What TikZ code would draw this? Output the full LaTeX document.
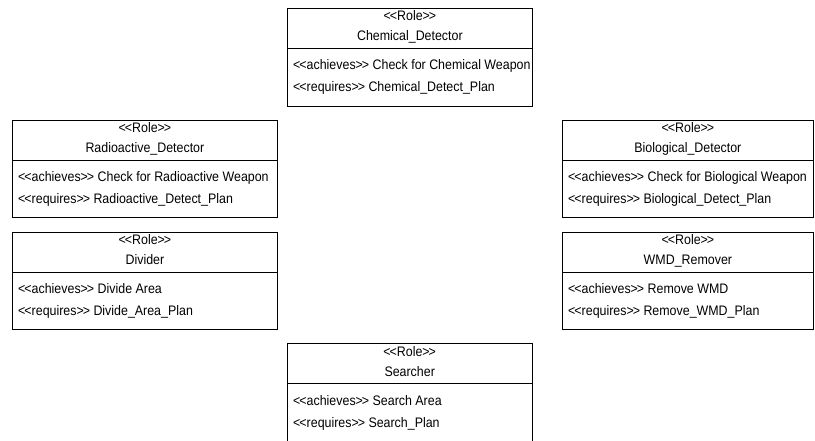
\documentclass[tikz,border=0pt]{standalone}
\usepackage{fontspec}
\newfontfamily\umlfont[FakeStretch=0.90]{Liberation Sans}
\begin{document}
\begin{tikzpicture}[x=1pt,y=-1pt,
  font=\umlfont\fontsize{13.8}{15}\selectfont,
  boxframe/.style={inner sep=0pt, anchor=north west},
  frameline/.style={draw=black, line width=0.8pt},
  ttl/.style={inner sep=0pt, anchor=base},
  txt/.style={inner sep=0pt, anchor=base west}]
\useasboundingbox (0,0) rectangle (815,441);
\newcommand\roleparts[4]{% id, name, achieves, requires
  \draw[frameline] ([yshift=-40pt]#1.north west) -- ([yshift=-40pt]#1.north east);
  \node[ttl] (#1-st) at ([yshift=-13pt]#1.north) {<\kern-1pt<Role>\kern-1pt>};
  \node[ttl] (#1-nm) at ([yshift=-33pt]#1.north) {#2};
  \node[txt] (#1-ac) at ([xshift=6pt,yshift=-62pt]#1.north west) {<\kern-1pt<achieves>\kern-1pt> #3};
  \node[txt] (#1-rq) at ([xshift=6pt,yshift=-84pt]#1.north west) {<\kern-1pt<requires>\kern-1pt> #4};
}
% boxes
\node[boxframe, frameline, minimum width=245pt, minimum height=98pt] (chem) at (287,8) {};
\roleparts{chem}{Chemical\_Detector}{Check for Chemical Weapon}{Chemical\_Detect\_Plan}

\node[boxframe, frameline, minimum width=265pt, minimum height=97pt] (radio) at (12,120) {};
\roleparts{radio}{Radioactive\_Detector}{Check for Radioactive Weapon}{Radioactive\_Detect\_Plan}

\node[boxframe, frameline, minimum width=265pt, minimum height=97pt] (divider) at (12,232) {};
\roleparts{divider}{Divider}{Divide Area}{Divide\_Area\_Plan}

\node[boxframe, frameline, minimum width=251pt, minimum height=97pt] (bio) at (562,120) {};
\roleparts{bio}{Biological\_Detector}{Check for Biological Weapon}{Biological\_Detect\_Plan}

\node[boxframe, frameline, minimum width=251pt, minimum height=97pt] (wmd) at (562,232) {};
\roleparts{wmd}{WMD\_Remover}{Remove WMD}{Remove\_WMD\_Plan}

\node[boxframe, minimum width=245pt, minimum height=98pt] (search) at (287,343) {};
\draw[frameline] (search.south west) -- (search.north west) -- (search.north east) -- (search.south east);
\roleparts{search}{Searcher}{Search Area}{Search\_Plan}
\end{tikzpicture}
\end{document}
